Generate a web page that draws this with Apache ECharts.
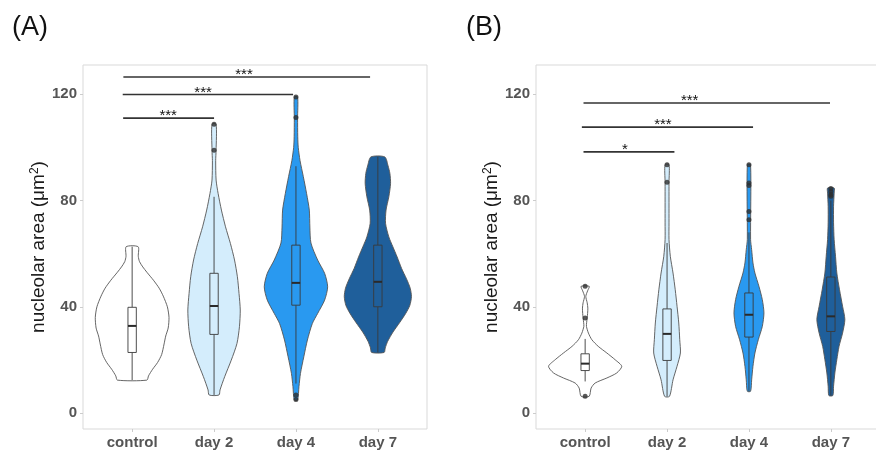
<!DOCTYPE html>
<html>
<head>
<meta charset="utf-8">
<script src="https://cdn.jsdelivr.net/npm/echarts@6/dist/echarts.min.js"></script>
<style>
  html, body { margin: 0; padding: 0; background: #ffffff; }
  #chart { width: 876px; height: 453px; }
</style>
</head>
<body>
<div id="chart"></div>
<script>
// ---- data ----
const categories = ['control', 'day 2', 'day 4', 'day 7'];
const yTickValues = [0, 40, 80, 120];

// Violin outlines: [nucleolar area (µm²), density half-width in category units]
const violinA_control = [[62.6,0.073],[59,0.075],[57,0.09],[55,0.13],[53,0.18],[50,0.26],[47,0.33],[44,0.38],[40,0.43],[36,0.45],[32,0.44],[29,0.41],[26,0.39],[22,0.36],[19,0.31],[16.5,0.25],[14,0.2],[12.4,0.18]];
const violinA_day2 = [[108.7,0.025],[99,0.025],[95,0.02],[87.7,0.025],[82.6,0.05],[76.4,0.09],[70.1,0.14],[63.8,0.2],[57.6,0.25],[51.3,0.285],[45,0.305],[38.8,0.32],[32.5,0.31],[26.2,0.28],[19.9,0.21],[13.7,0.13],[8.7,0.073],[6.8,0.06]];
const violinA_day4 = [[119,0.02],[111,0.02],[104,0.022],[100,0.028],[95,0.05],[89,0.09],[82.6,0.13],[76.4,0.163],[70,0.17],[64,0.183],[57.6,0.265],[52.6,0.35],[47.5,0.387],[42.5,0.35],[37.5,0.265],[33.7,0.2],[27.5,0.14],[21.2,0.096],[14.9,0.055],[10,0.037],[4.9,0.02]];
const violinA_day7 = [[96.4,0.085],[93,0.125],[90.2,0.147],[86.4,0.155],[81.4,0.134],[76.4,0.1],[71.4,0.094],[66.3,0.134],[62.6,0.183],[58.8,0.235],[54.4,0.29],[50.5,0.35],[47,0.395],[43.8,0.41],[40.5,0.39],[37.5,0.34],[34,0.265],[30.5,0.185],[27,0.12],[24.5,0.09],[22.8,0.076]];

const violinB_control = [[47.7,0.05],[46,0.03],[43.9,0.008],[41.5,0.025],[39.5,0.033],[37.5,0.03],[35.8,0.025],[34,0.018],[32.6,0.016],[30.1,0.04],[27.6,0.082],[25.1,0.16],[22.6,0.265],[20.1,0.365],[17.6,0.447],[15.1,0.386],[13.2,0.265],[11.3,0.122],[9.4,0.073],[6.3,0.049]];
const violinB_day2 = [[93.5,0.024],[86.9,0.024],[71.6,0.024],[65.3,0.024],[59,0.04],[52.7,0.073],[46.4,0.1],[40.2,0.122],[33.9,0.143],[27.6,0.155],[22.6,0.163],[17.6,0.122],[12.5,0.073],[6.3,0.03]];
const violinB_day4 = [[93.5,0.02],[65.3,0.02],[61.5,0.033],[56.5,0.049],[52.7,0.073],[47.7,0.122],[42.7,0.163],[37.7,0.183],[32.6,0.163],[27.6,0.114],[22.6,0.073],[17.6,0.049],[12.5,0.033],[8.2,0.02]];
const violinB_day7 = [[84.7,0.04],[82.8,0.04],[77.8,0.033],[71.6,0.033],[65.3,0.04],[59,0.057],[52.7,0.073],[46.4,0.106],[40.2,0.143],[35.2,0.171],[30.1,0.143],[25.1,0.1],[20.1,0.073],[15.1,0.049],[10.1,0.033],[6.6,0.024]];

// Box-plot statistics per category
const boxA_low    = [12.4, 6.8, 11.1, 22.8];
const boxA_q1     = [22.8, 29.6, 40.6, 40.0];
const boxA_median = [32.8, 40.3, 49.0, 49.4];
const boxA_q3     = [39.8, 52.6, 63.2, 63.2];
const boxA_high   = [62.6, 81.4, 92.9, 96.4];

const boxB_low    = [11.9, 6.3, 8.2, 6.6];
const boxB_q1     = [16.0, 19.8, 28.6, 30.7];
const boxB_median = [18.6, 29.8, 37.0, 36.4];
const boxB_q3     = [22.3, 39.2, 45.2, 51.2];
const boxB_high   = [27.9, 64.0, 68.0, 80.0];

// Outliers: [category index, value]
const outliersA = [[1,108.7],[1,98.9],[2,119.0],[2,111.2],[2,6.8],[2,5.1]];
const outliersB = [[0,47.7],[0,35.8],[0,6.3],[1,93.5],[1,86.9],[2,93.5],[2,86.6],[2,85.6],[2,75.9],[2,72.8],[3,84.5],[3,83.4],[3,82.3],[3,81.6]];

// Significance brackets: [from, to, height, label position, label]
const signifA = [[-0.11, 1.0, 111.0, 0.44, '***'], [-0.115, 1.965, 119.9, 0.866, '***'], [-0.107, 2.905, 126.5, 1.366, '***']];
const signifB = [[-0.02, 1.09, 98.3, 0.486, '*'], [-0.04, 2.05, 107.6, 0.95, '***'], [-0.02, 2.99, 116.7, 1.276, '***']];

// ---- styling ----
const FONT = 'Liberation Sans, Arial, sans-serif';
const fills = ['#ffffff', '#d4edfc', '#2999f0', '#1f5f9b'];
const outline = '#555555';
const BOX_HALF = 0.051;

const violinsA = [violinA_control, violinA_day2, violinA_day4, violinA_day7];
const violinsB = [violinB_control, violinB_day2, violinB_day4, violinB_day7];

function violinSeries(idx, profiles) {
  return {
    type: 'custom', xAxisIndex: idx, yAxisIndex: idx, silent: true, z: 2,
    data: categories.map((c, i) => [i, 0]),
    renderItem(params, api) {
      const i = params.dataIndex;
      const prof = profiles[i].slice().sort((a, b) => a[0] - b[0]);
      const pts = [];
      prof.forEach(p => pts.push(api.coord([i - p[1], p[0]])));
      prof.slice().reverse().forEach(p => pts.push(api.coord([i + p[1], p[0]])));
      return {
        type: 'polygon',
        shape: { points: pts, smooth: 0.25 },
        style: { fill: fills[i], stroke: outline, lineWidth: 0.9 }
      };
    }
  };
}

function boxSeries(idx, low, q1, med, q3, high) {
  return {
    type: 'custom', xAxisIndex: idx, yAxisIndex: idx, silent: true, z: 3,
    data: categories.map((c, i) => [i, med[i]]),
    renderItem(params, api) {
      const i = params.dataIndex;
      const c = (v) => api.coord([i, v]);
      const l = api.coord([i - BOX_HALF, q3[i]]);
      const r = api.coord([i + BOX_HALF, q1[i]]);
      const ml = api.coord([i - BOX_HALF, med[i]]);
      const mr = api.coord([i + BOX_HALF, med[i]]);
      const lineStyle = { stroke: '#3a3a3a', lineWidth: 0.9 };
      return {
        type: 'group',
        children: [
          { type: 'line', shape: { x1: c(high[i])[0], y1: c(high[i])[1], x2: c(q3[i])[0], y2: c(q3[i])[1] }, style: lineStyle },
          { type: 'line', shape: { x1: c(low[i])[0], y1: c(low[i])[1], x2: c(q1[i])[0], y2: c(q1[i])[1] }, style: lineStyle },
          { type: 'rect', shape: { x: l[0], y: l[1], width: r[0] - l[0], height: r[1] - l[1] }, style: { fill: fills[i], stroke: '#3a3a3a', lineWidth: 0.9 } },
          { type: 'line', shape: { x1: ml[0], y1: ml[1], x2: mr[0], y2: mr[1] }, style: { stroke: '#2a2a2a', lineWidth: 2 } }
        ]
      };
    }
  };
}

function outlierSeries(idx, pts) {
  return {
    type: 'scatter', xAxisIndex: idx, yAxisIndex: idx, silent: true, z: 4,
    symbolSize: 5, itemStyle: { color: '#2e2e2e' }, data: pts
  };
}

function signifSeries(idx, rows) {
  return {
    type: 'custom', xAxisIndex: idx, yAxisIndex: idx, silent: true, z: 5,
    data: rows.map(r => [r[0], r[2]]),
    renderItem(params, api) {
      const r = rows[params.dataIndex];
      const a = api.coord([r[0], r[2]]);
      const b = api.coord([r[1], r[2]]);
      const t = api.coord([r[3], r[2]]);
      return {
        type: 'group',
        children: [
          { type: 'line', shape: { x1: a[0], y1: a[1], x2: b[0], y2: b[1] }, style: { stroke: '#333333', lineWidth: 1.6 } },
          { type: 'text', style: { text: r[4], x: t[0], y: t[1] - 2, align: 'center', verticalAlign: 'middle', fontSize: 15, fontFamily: FONT, fill: '#111111' } }
        ]
      };
    }
  };
}

function xAxis(idx) {
  return {
    type: 'value', gridIndex: idx, min: -0.6, max: 3.6,
    axisLine: { show: false, onZero: false }, splitLine: { show: false },
    axisTick: { show: true, length: 3, lineStyle: { color: '#cccccc' }, customValues: [0, 1, 2, 3] },
    axisLabel: {
      customValues: [0, 1, 2, 3], formatter: v => categories[Math.round(v)],
      fontSize: 15, fontWeight: 'bold', color: '#555555', margin: 6, fontFamily: FONT
    }
  };
}

function yAxis(idx) {
  return {
    type: 'value', gridIndex: idx, min: -6, max: 131,
    axisLine: { show: false, onZero: false }, splitLine: { show: false },
    axisTick: { show: true, length: 3, lineStyle: { color: '#cccccc' }, customValues: yTickValues },
    axisLabel: {
      customValues: yTickValues, fontSize: 15, fontWeight: 'bold', color: '#555555', margin: 6, fontFamily: FONT
    },
    name: '{a|nucleolar area (μm}{s|2}{a|)}',
    nameLocation: 'middle', nameGap: 33,
    nameTextStyle: {
      fontFamily: FONT, color: '#1a1a1a',
      rich: {
        a: { fontSize: 19, fontFamily: FONT, color: '#1a1a1a', verticalAlign: 'bottom' },
        s: { fontSize: 12, fontFamily: FONT, color: '#1a1a1a', verticalAlign: 'top' }
      }
    }
  };
}

const gridBase = { top: 65, height: 364, width: 344, show: true, borderColor: '#d9d9d9', borderWidth: 1, backgroundColor: '#ffffff', outerBoundsMode: 'none' };

const chart = echarts.init(document.getElementById('chart'), null, { renderer: 'canvas' });
chart.setOption({
  animation: false,
  backgroundColor: '#ffffff',
  grid: [Object.assign({ left: 83 }, gridBase), Object.assign({ left: 536 }, gridBase)],
  xAxis: [xAxis(0), xAxis(1)],
  yAxis: [yAxis(0), yAxis(1)],
  graphic: [
    { type: 'text', left: 12, top: 14, style: { text: '(A)', fontSize: 27, fontFamily: FONT, fill: '#111111' } },
    { type: 'text', left: 466, top: 14, style: { text: '(B)', fontSize: 27, fontFamily: FONT, fill: '#111111' } }
  ],
  series: [
    violinSeries(0, violinsA),
    boxSeries(0, boxA_low, boxA_q1, boxA_median, boxA_q3, boxA_high),
    outlierSeries(0, outliersA),
    signifSeries(0, signifA),
    violinSeries(1, violinsB),
    boxSeries(1, boxB_low, boxB_q1, boxB_median, boxB_q3, boxB_high),
    outlierSeries(1, outliersB),
    signifSeries(1, signifB)
  ]
});
</script>
</body>
</html>
